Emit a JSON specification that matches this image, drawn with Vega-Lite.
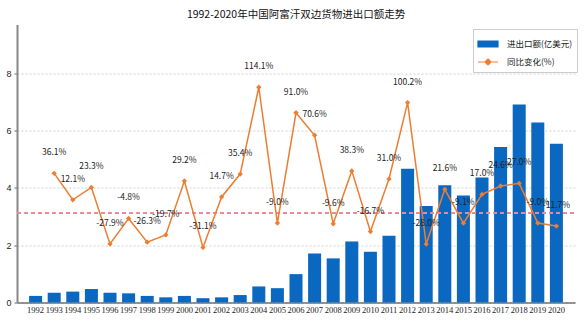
{
  "$schema": "https://vega.github.io/schema/vega-lite/v6.json",
  "autosize": {"type": "none"},
  "padding": {"left": 17, "top": 24.5, "right": 9, "bottom": 21.5},
  "width": 558,
  "height": 278,
  "background": "white",
  "title": {"text": "1992-2020年中国阿富汗双边货物进出口额走势", "font": "Noto Sans CJK SC", "fontSize": 10.5, "fontWeight": "normal", "color": "#111", "anchor": "middle", "offset": 4},
  "config": {
    "view": {"stroke": null},
    "font": "Noto Sans CJK SC"
  },
  "data": {"values": [
    {"year": "1992", "value": 0.23, "growth": null, "label": ""},
    {"year": "1993", "value": 0.34, "growth": 36.1, "label": "36.1%"},
    {"year": "1994", "value": 0.38, "growth": 12.1, "label": "12.1%"},
    {"year": "1995", "value": 0.47, "growth": 23.3, "label": "23.3%"},
    {"year": "1996", "value": 0.34, "growth": -27.9, "label": "-27.9%"},
    {"year": "1997", "value": 0.32, "growth": -4.8, "label": "-4.8%"},
    {"year": "1998", "value": 0.23, "growth": -26.3, "label": "-26.3%"},
    {"year": "1999", "value": 0.18, "growth": -19.7, "label": "-19.7%"},
    {"year": "2000", "value": 0.23, "growth": 29.2, "label": "29.2%"},
    {"year": "2001", "value": 0.15, "growth": -31.1, "label": "-31.1%"},
    {"year": "2002", "value": 0.18, "growth": 14.7, "label": "14.7%"},
    {"year": "2003", "value": 0.26, "growth": 35.4, "label": "35.4%"},
    {"year": "2004", "value": 0.56, "growth": 114.1, "label": "114.1%"},
    {"year": "2005", "value": 0.50, "growth": -9.0, "label": "-9.0%"},
    {"year": "2006", "value": 0.99, "growth": 91.0, "label": "91.0%"},
    {"year": "2007", "value": 1.71, "growth": 70.6, "label": "70.6%"},
    {"year": "2008", "value": 1.54, "growth": -9.6, "label": "-9.6%"},
    {"year": "2009", "value": 2.13, "growth": 38.3, "label": "38.3%"},
    {"year": "2010", "value": 1.77, "growth": -16.7, "label": "-16.7%"},
    {"year": "2011", "value": 2.33, "growth": 31.0, "label": "31.0%"},
    {"year": "2012", "value": 4.67, "growth": 100.2, "label": "100.2%"},
    {"year": "2013", "value": 3.37, "growth": -28.0, "label": "-28.0%"},
    {"year": "2014", "value": 4.09, "growth": 21.6, "label": "21.6%"},
    {"year": "2015", "value": 3.73, "growth": -9.1, "label": "-9.1%"},
    {"year": "2016", "value": 4.36, "growth": 17.0, "label": "17.0%"},
    {"year": "2017", "value": 5.43, "growth": 24.6, "label": "24.6%"},
    {"year": "2018", "value": 6.91, "growth": 27.0, "label": "27.0%"},
    {"year": "2019", "value": 6.28, "growth": -9.0, "label": "-9.0%"},
    {"year": "2020", "value": 5.54, "growth": -11.7, "label": "-11.7%"}
  ]},
  "encoding": {
    "x": {
      "field": "year", "type": "ordinal",
      "scale": {"paddingInner": 0.3, "paddingOuter": 0.65},
      "axis": {"title": null, "labelAngle": 0, "ticks": false, "domainColor": "#333", "domainWidth": 1, "labelFontSize": 8.5, "labelColor": "#222", "labelPadding": 3, "labelFont": "Liberation Sans Narrow", "grid": false, "labelOverlap": false}
    }
  },
  "layer": [
    {
      "mark": {"type": "bar", "color": "#0b68c1"},
      "encoding": {
        "y": {
          "field": "value", "type": "quantitative",
          "scale": {"domain": [0, 9.7], "nice": false},
          "axis": {"title": null, "values": [0, 2, 4, 6, 8], "grid": true, "gridColor": "#d0d0d0", "gridDash": [2, 2], "gridWidth": 1, "ticks": true, "tickSize": 3, "tickColor": "#666", "domainColor": "#888", "domainWidth": 2, "labelFontSize": 9, "labelColor": "#222", "labelFont": "Liberation Sans", "labelPadding": 3}
        },
        "color": {
          "datum": "进出口额(亿美元)",
          "type": "nominal",
          "scale": {"domain": ["进出口额(亿美元)", "同比变化(%)"], "range": ["#0b68c1", "#ed7d31"]},
          "legend": {
            "title": null,
            "orient": "none",
            "legendX": 456,
            "legendY": 4.5,
            "padding": 4,
            "strokeColor": "#cccccc",
            "fillColor": "white",
            "labelFontSize": 8.5,
            "labelColor": "#222",
            "labelFont": "Noto Sans CJK SC",
            "symbolSize": 400,
            "rowPadding": 1,
            "labelOffset": 8,
            "encode": {
              "symbols": {
                "update": {
                  "shape": {"signal": "datum.label === '同比变化(%)' ? 'M-1,0H1M0,-0.3L0.3,0L0,0.3L-0.3,0Z' : 'M-1,-0.3H1V0.3H-1Z'"},
                  "fill": {"signal": "datum.label === '同比变化(%)' ? '#ed7d31' : '#0b68c1'"},
                  "stroke": {"signal": "datum.label === '同比变化(%)' ? '#ed7d31' : '#0b68c1'"},
                  "strokeWidth": {"value": 1.2},
                  "fillOpacity": {"value": 1}
                }
              }
            }
          }
        }
      }
    },
    {
      "transform": [{"filter": "datum.growth != null"}],
      "encoding": {
        "y": {
          "field": "growth", "type": "quantitative",
          "scale": {"domain": [-81, 171], "nice": false, "zero": false},
          "axis": null
        }
      },
      "layer": [
        {
          "mark": {"type": "rule", "color": "#ee8a9a", "strokeDash": [4, 3], "strokeWidth": 0.9},
          "encoding": {"y": {"datum": 0, "type": "quantitative"}, "x": {"value": 0}, "x2": {"value": 558}}
        },
        {
          "mark": {"type": "line", "strokeWidth": 1.5, "point": {"filled": true, "shape": "diamond", "size": 28}},
          "encoding": {
            "color": {"datum": "同比变化(%)", "type": "nominal"}
          }
        },
        {
          "mark": {"type": "text", "dy": -21, "fontSize": 8.5, "font": "Noto Sans CJK SC", "color": "#222"},
          "encoding": {"text": {"field": "label"}}
        }
      ]
    }
  ],
  "resolve": {"scale": {"y": "independent"}}
}
